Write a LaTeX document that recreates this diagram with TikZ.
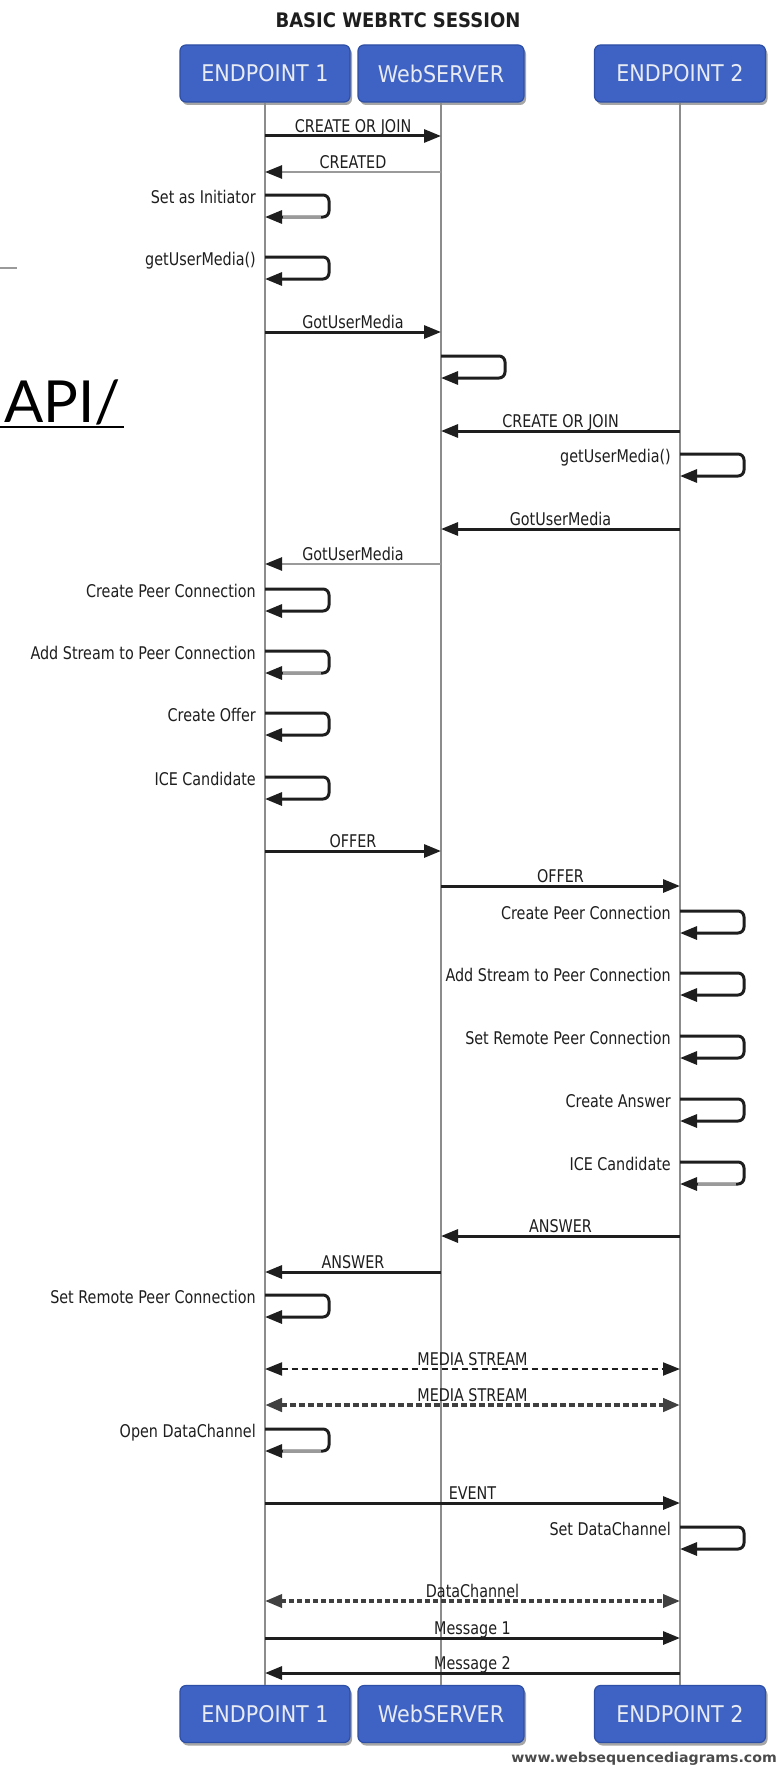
\documentclass[tikz,border=0pt]{standalone}
\usepackage{fontspec}
\setmainfont{DejaVu Sans}[FakeStretch=0.82]
\newfontfamily\boxfont{DejaVu Sans}[FakeStretch=0.9]
\newfontfamily\footfont{DejaVu Sans}[FakeStretch=1.05]
\newfontfamily\apifont{Lato}
\usetikzlibrary{arrows.meta,shadows,calc}
\definecolor{boxblue}{HTML}{3F63C4}
\definecolor{boxedge}{HTML}{2E4FA6}
\definecolor{boxtext}{HTML}{E8EBF3}
\definecolor{ink}{HTML}{1E1E1E}
\definecolor{lifegray}{HTML}{8C8C8C}
\definecolor{softgray}{HTML}{9A9A9A}
\tikzset{
  >={Triangle[length=17pt,width=13pt]},
  actor/.style={draw=boxedge, line width=1.2pt, fill=boxblue, rounded corners=6pt,
    minimum height=57pt, inner sep=0pt, text=boxtext,
    font=\boxfont\fontsize{23}{26}\selectfont,
    drop shadow={shadow xshift=2pt, shadow yshift=-3pt, opacity=0.35, fill=black}},
  life/.style={draw=lifegray, line width=2pt},
  msg/.style={draw=ink, line width=3pt, ->},
  msgg/.style={draw=softgray, line width=2.5pt, -{Triangle[length=17pt,width=13pt,color=ink]}},
  selfl/.style={draw=ink, line width=3pt, rounded corners=6pt, ->},
  dashthin/.style={draw=ink, line width=2pt, dash pattern=on 6pt off 4pt, <->},
  dashthick/.style={draw=ink!85, line width=4.5pt, dash pattern=on 6pt off 3pt, <->},
  dashmid/.style={draw=ink!85, line width=3.5pt, dash pattern=on 5pt off 3pt, <->},
  lbl/.style={text=ink, font=\fontsize{17.5}{20}\selectfont, inner sep=0pt},
}
% self message: #1 name, #2 lifeline node, #3 top y, #4 label
\newcommand{\selfmsg}[4]{%
  \draw[selfl] (#2 |- 0,#3) -- ++(64,0) -- ++(0,22) -- (#2 |- 0,#3+22);
  \node[lbl, anchor=base east, xshift=-9pt] (#1) at (#2 |- 0,#3+8) {#4};}
\newcommand{\selfmsgg}[4]{%
  \selfmsg{#1}{#2}{#3}{#4}%
  \draw[draw=softgray, line width=3pt] ($(#2 |- 0,#3+22)+(18,0)$) -- ($(#2 |- 0,#3+22)+(56,0)$);}
\begin{document}
\begin{tikzpicture}[x=1pt,y=-1pt]
\useasboundingbox (0,0) rectangle (780,1766);
\fill[white] (0,0) rectangle (780,1766);

% title
\node[font=\boxfont\bfseries\fontsize{20}{24}\selectfont, text=ink] (title) at (398,20) {BASIC WEBRTC SESSION};

% left page fragments
\draw[draw=softgray, line width=2pt] (0,268) -- (17,268);
\node[font=\apifont\fontsize{58}{64}\selectfont, anchor=base west, inner sep=0pt, text=black] (api) at (4,422) {API/};
\draw[draw=black, line width=2pt] (0,427) -- (124,427);

% actors
\node[actor, minimum width=170pt] (e1) at (265,73.5) {ENDPOINT 1};
\node[actor, minimum width=166pt] (ws) at (441,73.5) {WebSERVER};
\node[actor, minimum width=171pt] (e2) at (680,73.5) {ENDPOINT 2};
\node[actor, minimum width=170pt] (e1b) at (265,1714) {ENDPOINT 1};
\node[actor, minimum width=166pt] (wsb) at (441,1714) {WebSERVER};
\node[actor, minimum width=171pt] (e2b) at (680,1714) {ENDPOINT 2};

% lifelines
\draw[life] (e1) -- (e1b);
\draw[life] (ws) -- (wsb);
\draw[life] (e2) -- (e2b);

% messages
\draw[msg] (e1 |- 0,136) -- node[lbl, midway, anchor=base, yshift=4pt] (l1) {CREATE OR JOIN} (ws |- 0,136);
\draw[msgg] (ws |- 0,172) -- node[lbl, midway, anchor=base, yshift=4pt] (l2) {CREATED} (e1 |- 0,172);
\selfmsgg{l3}{e1}{195}{Set as Initiator}
\selfmsg{l4}{e1}{257}{getUserMedia()}
\draw[msg] (e1 |- 0,332) -- node[lbl, midway, anchor=base, yshift=4pt] (l5) {GotUserMedia} (ws |- 0,332);
\draw[selfl] (ws |- 0,356) -- ++(64,0) -- ++(0,22) -- (ws |- 0,378);
\draw[msg] (e2 |- 0,431) -- node[lbl, midway, anchor=base, yshift=4pt] (l7) {CREATE OR JOIN} (ws |- 0,431);
\selfmsg{l8}{e2}{454}{getUserMedia()}
\draw[msg] (e2 |- 0,529) -- node[lbl, midway, anchor=base, yshift=4pt] (l9) {GotUserMedia} (ws |- 0,529);
\draw[msgg] (ws |- 0,564) -- node[lbl, midway, anchor=base, yshift=4pt] (l10) {GotUserMedia} (e1 |- 0,564);
\selfmsg{l11}{e1}{589}{Create Peer Connection}
\selfmsgg{l12}{e1}{651}{Add Stream to Peer Connection}
\selfmsg{l13}{e1}{713}{Create Offer}
\selfmsg{l14}{e1}{777}{ICE Candidate}
\draw[msg] (e1 |- 0,851) -- node[lbl, midway, anchor=base, yshift=4pt] (l15) {OFFER} (ws |- 0,851);
\draw[msg] (ws |- 0,886) -- node[lbl, midway, anchor=base, yshift=4pt] (l16) {OFFER} (e2 |- 0,886);
\selfmsg{l17}{e2}{911}{Create Peer Connection}
\selfmsg{l18}{e2}{973}{Add Stream to Peer Connection}
\selfmsg{l19}{e2}{1036}{Set Remote Peer Connection}
\selfmsg{l20}{e2}{1099}{Create Answer}
\selfmsgg{l21}{e2}{1162}{ICE Candidate}
\draw[msg] (e2 |- 0,1236) -- node[lbl, midway, anchor=base, yshift=4pt] (l22) {ANSWER} (ws |- 0,1236);
\draw[msg] (ws |- 0,1272) -- node[lbl, midway, anchor=base, yshift=4pt] (l23) {ANSWER} (e1 |- 0,1272);
\selfmsg{l24}{e1}{1295}{Set Remote Peer Connection}
\draw[dashthin] (e1 |- 0,1369) -- node[lbl, midway, anchor=base, yshift=4pt] (l25) {MEDIA STREAM} (e2 |- 0,1369);
\draw[dashthick] (e1 |- 0,1405) -- node[lbl, midway, anchor=base, yshift=4pt] (l26) {MEDIA STREAM} (e2 |- 0,1405);
\selfmsgg{l27}{e1}{1429}{Open DataChannel}
\draw[msg] (e1 |- 0,1503) -- node[lbl, midway, anchor=base, yshift=4pt] (l28) {EVENT} (e2 |- 0,1503);
\selfmsg{l29}{e2}{1527}{Set DataChannel}
\draw[dashmid] (e1 |- 0,1601) -- node[lbl, midway, anchor=base, yshift=4pt] (l30) {DataChannel} (e2 |- 0,1601);
\draw[msg] (e1 |- 0,1638) -- node[lbl, midway, anchor=base, yshift=4pt] (l31) {Message 1} (e2 |- 0,1638);
\draw[msg] (e2 |- 0,1673) -- node[lbl, midway, anchor=base, yshift=4pt] (l32) {Message 2} (e1 |- 0,1673);

% footer
\node[font=\footfont\bfseries\fontsize{13.5}{16}\selectfont, text=ink!80, anchor=east, inner sep=0pt] (foot) at (777,1759) {www.websequencediagrams.com};
\end{tikzpicture}
\end{document}
